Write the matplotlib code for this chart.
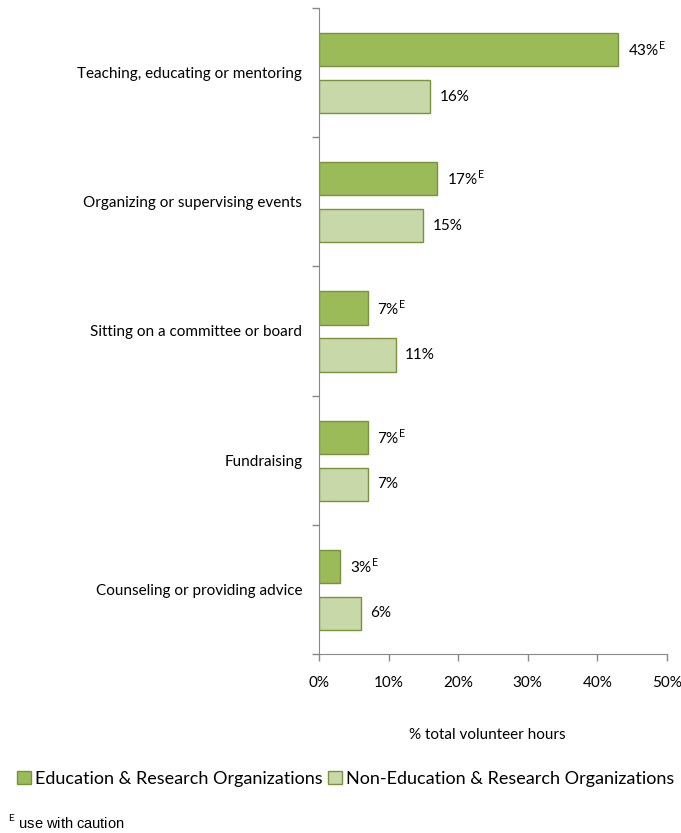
import numpy as np
import matplotlib.pyplot as plt
from matplotlib.patches import Patch

plt.rcParams['font.family'] = ['Lato', 'DejaVu Sans']
plt.rcParams['mathtext.fontset'] = 'custom'
plt.rcParams['mathtext.rm'] = 'Lato'

categories = ["Teaching, educating or mentoring", "Organizing or supervising events",
              "Sitting on a committee or board", "Fundraising",
              "Counseling or providing advice"]
edu = [43, 17, 7, 7, 3]
non_edu = [16, 15, 11, 7, 6]
series_names = ["Education & Research Organizations", "Non-Education & Research Organizations"]

dark = "#9BBB59"
light = "#C9D8A9"
edge = "#77933C"

fig = plt.figure(figsize=(6.81, 8.33), dpi=100)
ax = fig.add_axes([0.4684, 0.2149, 0.511, 0.7755])

y = np.arange(len(categories))
h = 0.256
ax.barh(y - 0.178, edu, height=h, color=dark, edgecolor=edge, linewidth=1)
ax.barh(y + 0.186, non_edu, height=h, color=light, edgecolor=edge, linewidth=1)

for yi, v in zip(y, edu):
    ax.annotate(f"{v}%" + r"$^{\mathrm{E}}$", (v, yi - 0.178), xytext=(7, 0),
                textcoords="offset points", va="center", ha="left", fontsize=11)
for yi, v in zip(y, non_edu):
    ax.annotate(f"{v}%", (v, yi + 0.186), xytext=(7, 0),
                textcoords="offset points", va="center", ha="left", fontsize=11)

ax.set_xlim(0, 50)
ax.set_ylim(len(categories) - 0.5, -0.5)
ax.set_xticks(np.arange(0, 51, 10))
ax.set_xticklabels([f"{t}%" for t in range(0, 51, 10)], fontsize=11)
ax.set_yticks(y)
ax.set_yticklabels(categories, fontsize=11)
ax.set_yticks(np.arange(-0.5, len(categories), 1), minor=True)
ax.tick_params(axis='y', which='major', length=0, pad=12)
ax.tick_params(axis='y', which='minor', length=5, color="#888888", width=1)
ax.tick_params(axis='x', length=5, color="#888888", width=1, pad=11)

for s in ["top", "right"]:
    ax.spines[s].set_visible(False)
for s in ["left", "bottom"]:
    ax.spines[s].set_color("#888888")

fig.text(0.715, 0.118, "% total volunteer hours", ha="center", va="center", fontsize=11)

handles = [Patch(facecolor=dark, edgecolor=edge), Patch(facecolor=light, edgecolor=edge)]
fig.legend(handles, series_names, loc="center", bbox_to_anchor=(0.508, 0.065), ncol=2,
           frameon=False, fontsize=13, handlelength=0.75, handleheight=0.75,
           handletextpad=0.25, columnspacing=0.3)

fig.text(0.012, 0.003, r"$^{\mathrm{E}}$ use with caution", ha="left", va="bottom",
         fontsize=10.5, family=["Liberation Sans", "DejaVu Sans"])

fig.savefig("out.png", dpi=100)
